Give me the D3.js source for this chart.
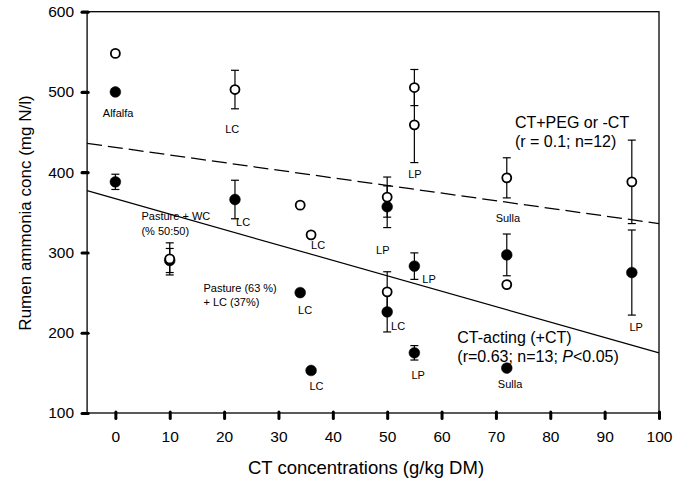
<!DOCTYPE html>
<html>
<head>
<meta charset="utf-8">
<script src="https://cdn.jsdelivr.net/npm/d3@7"></script>
<style>
    body { margin: 0; background: #fff; }
    svg  { display: block; font-family: "Liberation Sans", Arial, sans-serif; }
</style>
</head>
<body>
<svg id="ammonia_plot" width="685" height="482"></svg>
<script>
// CT-acting (+CT), filled markers
const ctX      = [0, 0, 10, 22, 34, 36, 50, 50, 55, 55, 72, 72, 95];
const ctY      = [500, 388, 290, 366, 250, 153, 357, 226, 283, 175, 297, 156, 275];
const ctErr    = [0, 9.5, 15, 24, 0, 0, 26, 25, 16.5, 9, 26, 0, 53];

// CT+PEG or -CT, open markers
const pegX     = [0, 10, 22, 34, 36, 50, 50, 55, 55, 72, 72, 95];
const pegY     = [548, 292, 503, 359, 322, 369, 251, 505.5, 459, 393, 260, 388];
const pegErr   = [0, 20, 24, 0, 0, 25, 25, 22.5, 47, 25, 0, 52];

// regression lines: intercept, slope
const fitNames      = ["peg", "ct"];
const fitIntercepts = [431, 367];
const fitSlopes     = [-0.95, -1.92];

const xTicks = [0, 10, 20, 30, 40, 50, 60, 70, 80, 90, 100];
const yTicks = [100, 200, 300, 400, 500, 600];

// small forage labels (text, x, y in data units)
const labelTexts = ["Alfalfa", "LC", "LC", "LC", "LP", "LP", "Sulla", "LP", "LC", "LC", "LC", "LP", "Sulla", "LP"];
const labelX     = [0.5, 21.5, 23.5, 37.3, 49.2, 55.1, 72.2, 57.7, 34.9, 52, 37, 55.7, 72.6, 95.8];
const labelY     = [469, 449, 332.4, 303.8, 298.2, 393, 338.3, 262.4, 223.7, 203.5, 129, 142.3, 131.4, 202.3];

// diet notes (left anchored)
const noteLines  = ["Pasture + WC", "(% 50:50)", "Pasture (63 %)", "+ LC (37%)"];
const noteX      = [4.8, 4.8, 16.2, 16.2];
const noteY      = [340.2, 321.6, 251.3, 233.3];

// regression legends
const legendLines = ["CT+PEG or -CT", "(r = 0.1; n=12)", "CT-acting (+CT)", "(r=0.63; n=13; |P|<0.05)"];
const legendX     = [73.5, 73.5, 62.9, 62.9];
const legendY     = [454.8, 431.2, 187, 164];

const svg = d3.select("#ammonia_plot");

const frame = { left: 87.1, right: 659, top: 11.7, bottom: 413 };

const xScale = d3.scaleLinear().domain([-5.2, 100]).range([frame.left, frame.right]);
const yScale = d3.scaleLinear().domain([100, 600]).range([frame.bottom, frame.top]);

// the following code is used to draw the frame
svg.append("rect")
    .attr("x", frame.left).attr("y", frame.top)
    .attr("width", frame.right - frame.left).attr("height", frame.bottom - frame.top)
    .attr("fill", "none").attr("stroke", "#000").attr("stroke-width", 1.3);

// axes with the blob-like ticks
const axisY = svg.append("g")
    .attr("transform", `translate(${frame.left},0)`)
    .call(d3.axisLeft(yScale).tickValues(yTicks).tickSize(5).tickPadding(8).tickFormat(d3.format("d")));
axisY.select(".domain").remove();
axisY.selectAll(".tick line")
    .attr("x1", 1).attr("stroke-width", 3.2).attr("stroke-linecap", "round");
axisY.selectAll(".tick text")
    .attr("font-size", 15.5).attr("font-family", "Liberation Sans, Arial, sans-serif").attr("fill", "#000");

const axisX = svg.append("g")
    .attr("transform", `translate(0,${frame.bottom})`)
    .call(d3.axisBottom(xScale).tickValues(xTicks).tickSize(5.5).tickPadding(12).tickFormat(d3.format("d")));
axisX.select(".domain").remove();
axisX.selectAll(".tick line")
    .attr("y1", -1).attr("stroke-width", 3).attr("stroke-linecap", "round");
axisX.selectAll(".tick text")
    .attr("font-size", 15.5).attr("font-family", "Liberation Sans, Arial, sans-serif").attr("fill", "#000");

// axis titles
svg.append("text")
    .attr("x", 366).attr("y", 474)
    .attr("text-anchor", "middle").attr("font-size", 18.5)
    .text("CT concentrations (g/kg DM)");

svg.append("text")
    .attr("transform", "translate(31,213) rotate(-90)")
    .attr("text-anchor", "middle").attr("font-size", 17)
    .text("Rumen ammonia conc (mg N/l)");

// regression lines
const fitGroup = svg.append("g");
fitNames.forEach((name, i) =>
{
    const x0 = xScale.domain()[0], x1 = xScale.domain()[1];
    fitGroup.append("line")
        .attr("x1", xScale(x0)).attr("y1", yScale(fitIntercepts[i] + fitSlopes[i] * x0))
        .attr("x2", xScale(x1)).attr("y2", yScale(fitIntercepts[i] + fitSlopes[i] * x1))
        .attr("stroke", "#000").attr("stroke-width", 1.2)
        .attr("stroke-dasharray", name === "peg" ? "15,6" : null);
});

// error bars, then markers
function drawSeries(xs, ys, errs, filled)
{
    const g = svg.append("g");
    const pts = xs.map((x, i) => ({x: x, y: ys[i], e: errs[i]}));
    const withErr = pts.filter(d => d.e > 0);

    g.selectAll(".stem").data(withErr).enter().append("line")
        .attr("x1", d => xScale(d.x)).attr("x2", d => xScale(d.x))
        .attr("y1", d => yScale(d.y + d.e)).attr("y2", d => yScale(d.y - d.e))
        .attr("stroke", "#000").attr("stroke-width", 1.2);
    [1, -1].forEach(s =>
    {
        g.selectAll(".cap" + s).data(withErr).enter().append("line")
            .attr("x1", d => xScale(d.x) - 4).attr("x2", d => xScale(d.x) + 4)
            .attr("y1", d => yScale(d.y + s * d.e)).attr("y2", d => yScale(d.y + s * d.e))
            .attr("stroke", "#000").attr("stroke-width", 1.2);
    });

    g.selectAll("circle").data(pts).enter().append("circle")
        .attr("cx", d => xScale(d.x)).attr("cy", d => yScale(d.y))
        .attr("r", filled ? 5.4 : 4.5)
        .attr("fill", filled ? "#000" : "#fff")
        .attr("stroke", "#000").attr("stroke-width", filled ? 0.5 : 1.8);
}

drawSeries(ctX, ctY, ctErr, true);
drawSeries(pegX, pegY, pegErr, false);

// forage labels
svg.append("g").selectAll("text").data(labelTexts).enter().append("text")
    .attr("x", (d, i) => xScale(labelX[i])).attr("y", (d, i) => yScale(labelY[i]))
    .attr("text-anchor", "middle").attr("font-size", 11)
    .text(d => d);

svg.append("g").selectAll("text").data(noteLines).enter().append("text")
    .attr("x", (d, i) => xScale(noteX[i])).attr("y", (d, i) => yScale(noteY[i]))
    .attr("font-size", 11)
    .text(d => d);

// legends, |P| marks italic
svg.append("g").selectAll("text").data(legendLines).enter().append("text")
    .attr("x", (d, i) => xScale(legendX[i])).attr("y", (d, i) => yScale(legendY[i]))
    .attr("font-size", 16)
    .each(function(d)
    {
        const t = d3.select(this);
        d.split("|").forEach((part, k) =>
        {
            t.append("tspan").attr("font-style", k % 2 ? "italic" : null).text(part);
        });
    });
</script>
</body>
</html>
